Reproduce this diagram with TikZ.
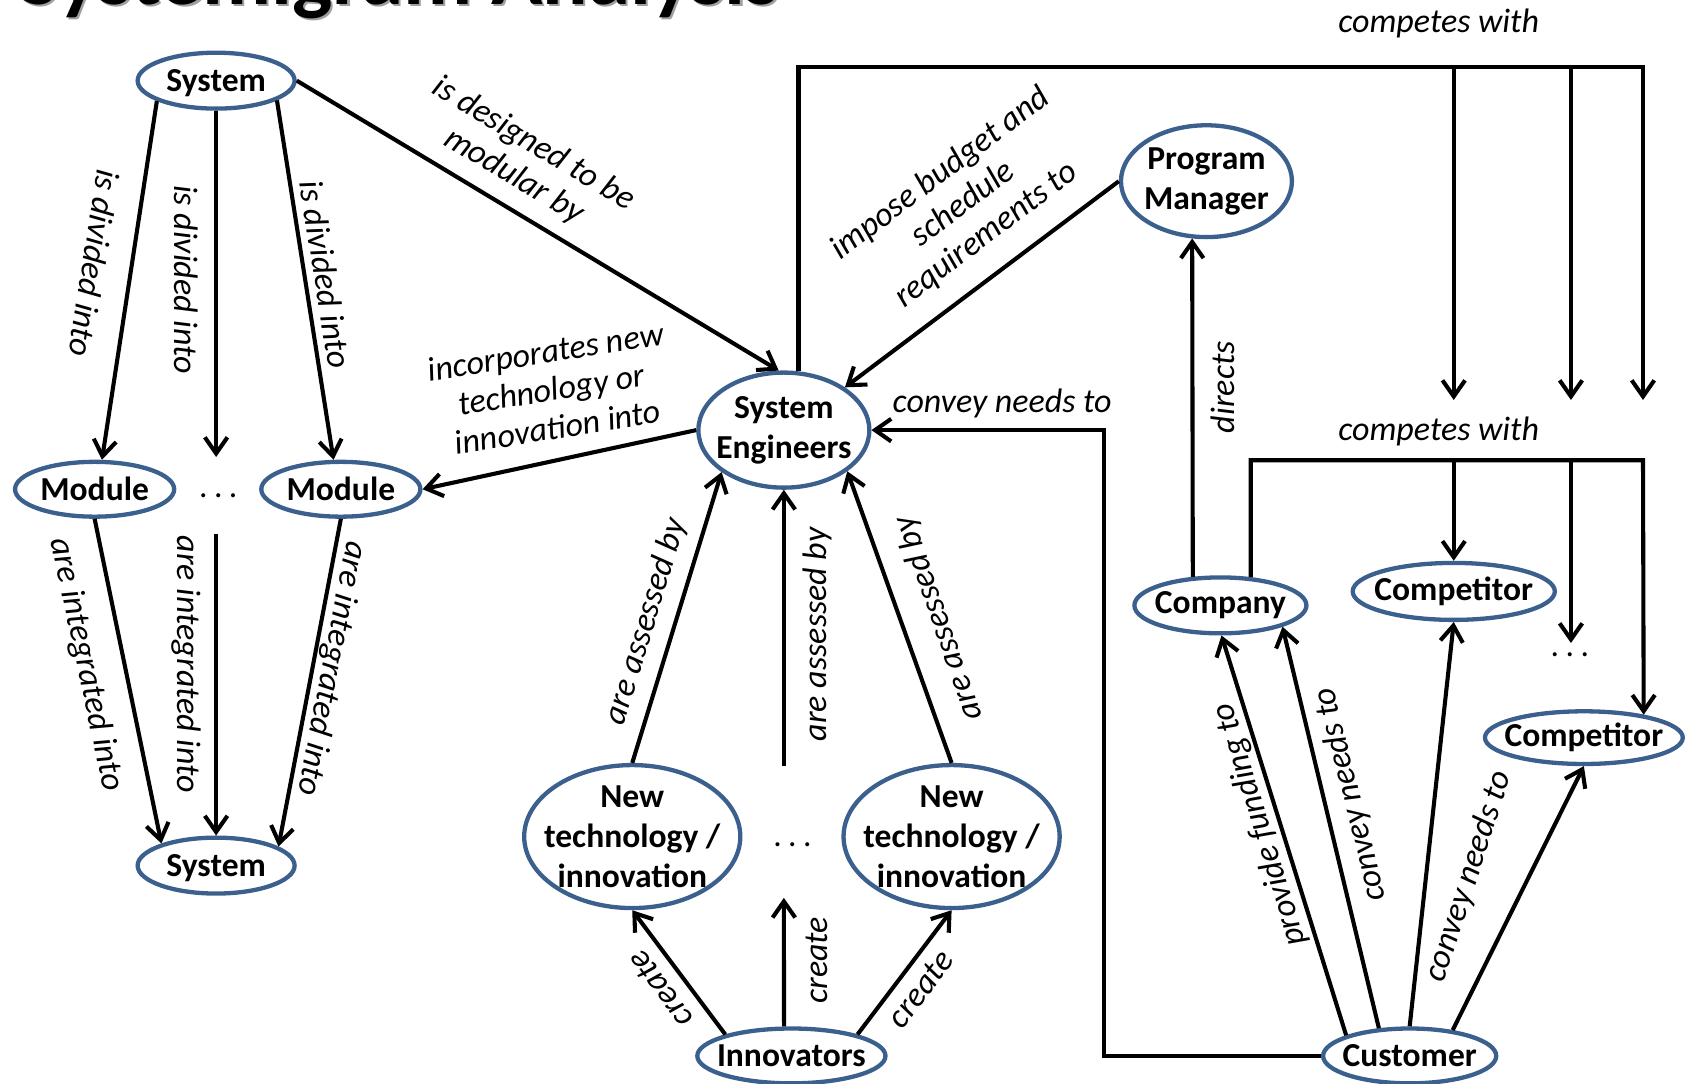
\documentclass[tikz,border=0pt]{standalone}
\usepackage{fontspec}
\setmainfont{Carlito}
\usetikzlibrary{shapes.geometric,arrows.meta}
\definecolor{ellblue}{RGB}{60,96,142}
\definecolor{shadowgray}{RGB}{160,160,160}
\begin{document}
\begin{tikzpicture}[x=0.5pt,y=-0.5pt,
  concept/.style={draw=ellblue, line width=2pt, ellipse, inner sep=0pt},
  ctext/.style={font=\bfseries\fontsize{15.6}{18.5}\selectfont, align=center, inner sep=0pt},
  rel/.style={font=\itshape\fontsize{15.8}{17.8}\selectfont, align=center, inner sep=0pt},
  dots/.style={font=\fontsize{15.6}{18}\selectfont, inner sep=0pt},
  link/.style={line width=1.9pt},
  arr/.style={link, -{Straight Barb[length=7.5pt,width=10.5pt,line width=1.9pt]}},
]
\useasboundingbox (0,0) rectangle (1568,1008);

% title (runs off the top edge)
\node[anchor=base west, inner sep=0pt, text=shadowgray,
      font=\bfseries\fontsize{39.5}{39.5}\selectfont] (titleshadow) at (20,6) {Systemigram Analysis};
\node[anchor=base west, inner sep=0pt,
      font=\bfseries\fontsize{39.5}{39.5}\selectfont] (title) at (18,4) {Systemigram Analysis};

% concepts
\node[concept, minimum width=73pt, minimum height=26pt, label={[ctext,yshift=-1pt]center:System}] (sysT) at (201,75) {};
\node[concept, minimum width=74pt, minimum height=25.5pt, label={[ctext]center:Module}] (modL) at (88,455) {};
\node[concept, minimum width=74pt, minimum height=25.5pt, label={[ctext]center:Module}] (modR) at (317,455) {};
\node[concept, minimum width=73pt, minimum height=26pt, label={[ctext,yshift=-1pt]center:System}] (sysB) at (201,805) {};
\node[concept, minimum width=79.5pt, minimum height=53.5pt, label={[ctext]center:{System\\Engineers}}] (sysE) at (729,400) {};
\node[concept, minimum width=79.5pt, minimum height=52pt, label={[ctext]center:{Program\\Manager}}] (pm) at (1122,168.5) {};
\node[concept, minimum width=100.5pt, minimum height=66.5pt, label={[ctext]center:{New\\technology /\\innovation}}] (ntL) at (588,778) {};
\node[concept, minimum width=100.5pt, minimum height=66.5pt, label={[ctext]center:{New\\technology /\\innovation}}] (ntR) at (885,778) {};
\node[concept, minimum width=87.5pt, minimum height=25.5pt, label={[ctext]center:Innovators}] (inno) at (736,982) {};
\node[concept, minimum width=80pt, minimum height=26pt, label={[ctext]center:Company}] (comp) at (1135,563) {};
\node[concept, minimum width=94pt, minimum height=26.5pt, label={[ctext]center:Competitor}] (compT) at (1352,550) {};
\node[concept, minimum width=92pt, minimum height=24.5pt, label={[ctext]center:Competitor}] (compR) at (1473,686) {};
\node[concept, minimum width=80.5pt, minimum height=25.5pt, label={[ctext]center:Customer}] (cust) at (1311,982) {};

% ellipsis marks
\node[dots] (dotsMod) at (203,461) {.\kern3pt.\kern3pt.};
\node[dots] (dotsNT) at (737,786) {.\kern3pt.\kern3pt.};
\node[dots] (dotsComp) at (1460,609) {.\kern3pt.\kern3pt.};

% free ends of the open connectors
\coordinate (divM) at (201,425);
\coordinate (intM) at (201,497);
\coordinate (asM) at (729,712);
\coordinate (crM) at (729,835);
\coordinate (cnv) at (1027,982);
\coordinate (topR) at (1528,62);
\coordinate (c1) at (1352,372);
\coordinate (c2) at (1461,372);
\coordinate (c3) at (1528,372);
\coordinate (midR) at (1528,428);
\coordinate (c4) at (1461,598);

% system decomposition
\draw[arr] (sysT.199) -- (modL.76);
\draw[arr] (sysT.south) -- (divM);
\draw[arr] (sysT.342) -- (modR.104);
\draw[arr] (modL.south) -- (sysB.158);
\draw[arr] (intM) -- (sysB.north);
\draw[arr] (modR.south) -- (sysB.17);

% system engineers
\draw[arr] (sysT.east) -- (sysE.95);
\draw[arr] (pm.west) -- (sysE.35);
\draw[arr] (sysE.west) -- (modR.east);

% innovation
\draw[arr] (ntL.north) -- (sysE.214);
\draw[arr] (asM) -- (sysE.south);
\draw[arr] (ntR.north) -- (sysE.327);
\draw[arr] (inno.162) -- (ntL.south);
\draw[arr] (inno.104) -- (crM);
\draw[arr] (inno.18) -- (ntR.south);

% company and customer
\draw[arr] (comp.134) -- (pm.256);
\draw[arr] (cust.162) -- (comp.272);
\draw[arr] (cust.138) -- (comp.341);
\draw[arr] (cust.north) -- (compT.south);
\draw[arr] (cust.31) -- (compR.south);
\draw[arr] (cust.west) -- (cnv) |- (sysE.east);

% competition
\draw[arr] (sysE.76) |- (topR) -- (c3);
\draw[arr] (c1 |- topR) -- (c1);
\draw[arr] (c2 |- topR) -- (c2);
\draw[arr] (comp.43) |- (midR) -- (compR.21);
\draw[arr] (compT.north |- midR) -- (compT.north);
\draw[arr] (c4 |- midR) -- (c4);

% relation labels
\node[rel, rotate=-99] (l1) at (88,245) {is divided into};
\node[rel, rotate=-90] (l2) at (173,260) {is divided into};
\node[rel, rotate=-81] (l3) at (303,255) {is divided into};
\node[rel, rotate=-78] (l4) at (80,618) {are integrated into};
\node[rel, rotate=-90] (l5) at (173,618) {are integrated into};
\node[rel, rotate=-101] (l6) at (308,622) {are integrated into};
\node[rel, rotate=-31] (l7) at (487,149) {is designed to be\\modular by};
\node[rel, rotate=9] (l8) at (513,362) {incorporates new\\technology or\\innovation into};
\node[rel, rotate=37] (l9) at (896,190) {impose budget and\\schedule\\requirements to};
\node[rel] (l10) at (932,375) {convey needs to};
\node[rel, rotate=90] (l11) at (1137,360) {directs};
\node[rel, rotate=73] (l12) at (601,578) {are assessed by};
\node[rel, rotate=90] (l13) at (760,590) {are assessed by};
\node[rel, rotate=109] (l14) at (873,575) {are assessed by};
\node[rel, rotate=126] (l15) at (614,920) {create};
\node[rel, rotate=90] (l16) at (760,893) {create};
\node[rel, rotate=53] (l17) at (856,920) {create};
\node[rel, rotate=107] (l18) at (1172,767) {provide funding to};
\node[rel, rotate=104] (l19) at (1256,739) {convey needs to};
\node[rel, rotate=72] (l20) at (1366,815) {convey needs to};
\node[rel] (l21) at (1338,22) {competes with};
\node[rel] (l22) at (1338,401) {competes with};
\end{tikzpicture}
\end{document}
